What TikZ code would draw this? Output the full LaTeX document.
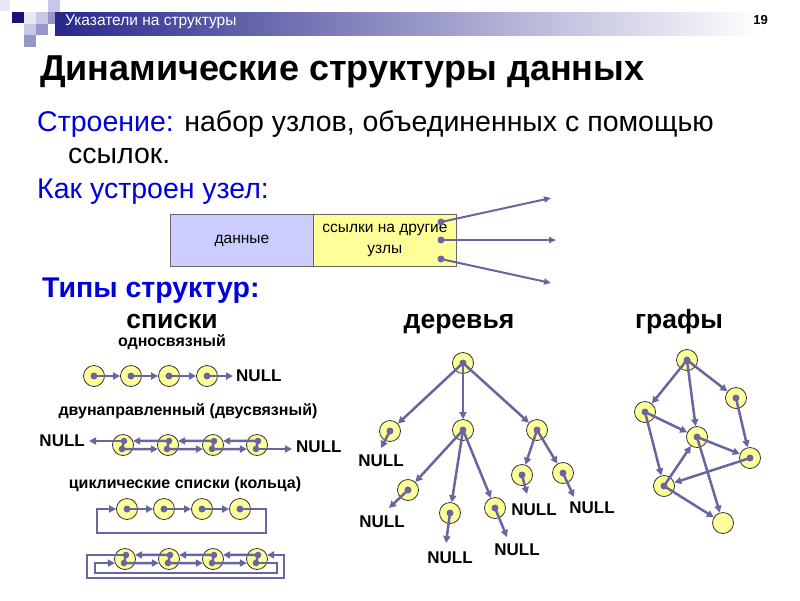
\documentclass[tikz,border=0pt]{standalone}
\usepackage{fontspec}
\setmainfont{Liberation Sans}
\usetikzlibrary{arrows.meta}
\definecolor{barDark}{RGB}{40,40,140}
\definecolor{lineC}{RGB}{102,102,160}
\definecolor{nodeFill}{RGB}{255,255,153}
\definecolor{dataFill}{RGB}{204,204,255}
\definecolor{blueT}{RGB}{0,0,220}
\definecolor{sqDark}{RGB}{20,20,120}
\definecolor{sqMid}{RGB}{150,150,200}
\definecolor{sqLight}{RGB}{200,200,230}
\definecolor{sqPale}{RGB}{232,232,242}
\tikzset{
  cnode/.style={circle,draw=black!80,line width=0.8pt,fill=nodeFill,minimum size=21pt,inner sep=0pt},
  arr/.style={draw=lineC,line width=2.5pt,-{Triangle[length=7pt,width=7pt]}},
  thinarr/.style={draw=lineC,line width=2pt,-{Triangle[length=7pt,width=6pt]}},
  dotc/.style={fill=lineC},
  nulltxt/.style={font=\bfseries\fontsize{17}{19}\selectfont,inner sep=0pt},
  bodyT/.style={anchor=base west,inner sep=0pt,font=\fontsize{28.5}{32}\selectfont},
  headT/.style={inner sep=0pt,font=\bfseries\fontsize{26.5}{30}\selectfont,anchor=base},
  subT/.style={inner sep=0pt,font=\bfseries\fontsize{16}{18}\selectfont,anchor=base},
  boxT/.style={draw=black!60,line width=0.8pt,minimum width=143pt,minimum height=52pt,anchor=north west,inner sep=0pt,align=center,font=\fontsize{15.5}{21}\selectfont}
}
\begin{document}
\begin{tikzpicture}[x=1pt,y=-1pt]
\useasboundingbox (0,0) rectangle (800,600);
% header squares
\fill[sqPale] (0,0) rectangle (10,11);
\fill[sqLight] (48,0) rectangle (60,12);
\fill[sqDark] (12,12) rectangle (24,23);
\fill[sqPale] (24,12) rectangle (36,24);
\fill[sqLight] (36,12) rectangle (48,24);
\fill[sqMid] (48,12) rectangle (60,24);
\fill[sqLight] (24,24) rectangle (36,35);
\fill[sqMid] (36,24) rectangle (48,35);
\fill[sqMid] (24,35) rectangle (36,47);
% header bar
\shade[left color=barDark,right color=white] (55,12) rectangle (760,35);
\node[anchor=west,inner sep=0pt,text=white,font=\fontsize{15.5}{17}\selectfont] (hdr) at (65,22) {Указатели на структуры};
\node[anchor=east,inner sep=0pt,font=\bfseries\fontsize{13}{15}\selectfont] (pg) at (768,20) {19};
% title
\node[anchor=base west,inner sep=0pt,font=\bfseries\fontsize{36}{40}\selectfont] (title) at (40,80) {Динамические структуры данных};
\node[bodyT] (t1) at (37,131) {\textcolor{blueT}{Строение:} набор узлов, объединенных с помощью};
\node[bodyT] (t2) at (68,163) {ссылок.};
\node[bodyT,text=blueT] (t3) at (37,198) {Как устроен узел:};
\node[bodyT,text=blueT,font=\bfseries\fontsize{28.5}{32}\selectfont] (t4) at (42,297) {Типы структур:};
% node structure
\node[boxT,fill=dataFill] (data) at (170,214) {данные};
\node[boxT,fill=nodeFill] (links) at (313,214) {ссылки на другие\\узлы};
\coordinate (p1) at (441,222);
\coordinate (p2) at (441,240);
\coordinate (p3) at (441,259);
\coordinate (q1) at (551,198);
\coordinate (q2) at (556,240);
\coordinate (q3) at (551,283);
\draw[thinarr] (p1) -- (q1);
\draw[thinarr] (p2) -- (q2);
\draw[thinarr] (p3) -- (q3);
\foreach \p in {p1,p2,p3} \fill[dotc] (\p) circle (3.5);
% section heads
\node[headT] (h1) at (172,328) {списки};
\node[headT] (h2) at (459,328) {деревья};
\node[headT] (h3) at (679,328) {графы};
% singly linked
\node[subT] (s0) at (172,346) {односвязный};
\node[cnode] (a1) at (94,376) {};
\node[cnode] (a2) at (131,376) {};
\node[cnode] (a3) at (169,376) {};
\node[cnode] (a4) at (207,376) {};
\node[nulltxt,anchor=west] (an) at (236,376) {NULL};
\draw[arr] (a1.center) -- (a2);
\draw[arr] (a2.center) -- (a3);
\draw[arr] (a3.center) -- (a4);
\draw[arr] (a4.center) -- ([xshift=-3pt]an.west);
\foreach \n in {a1,a2,a3,a4} \fill[dotc] (\n) circle (3.5);
% doubly linked
\node[subT] (d0) at (188,415) {двунаправленный (двусвязный)};
\foreach \i/\x in {1/123,2/168,3/213,4/257}{
  \node[cnode] (b\i) at (\x,445) {};
  \coordinate (b\i u) at (\x+1,441);
  \coordinate (b\i d) at (\x-1,449);
}
\node[nulltxt,anchor=east] (bnl) at (85,441) {NULL};
\node[nulltxt,anchor=west] (bnr) at (296,447) {NULL};
\draw[arr] (b1u) -- ([xshift=4pt]b1u -| bnl.east);
\draw[arr] (b2u) -- (b1.22);
\draw[arr] (b3u) -- (b2.22);
\draw[arr] (b4u) -- (b3.22);
\draw[arr] (b1d) -- (b2.202);
\draw[arr] (b2d) -- (b3.202);
\draw[arr] (b3d) -- (b4.202);
\draw[arr] (b4d) -- ([xshift=-4pt]b4d -| bnr.west);
\foreach \i in {1,2,3,4}{
  \draw[lineC,line width=2.5pt] (b\i u) -- (b\i d);
  \fill[dotc] (b\i u) circle (3.3);
  \fill[dotc] (b\i d) circle (3.3);
}
% cyclic
\node[subT] (c0) at (185,488) {циклические списки (кольца)};
\foreach \i/\x in {1/127,2/164,3/202,4/240}{
  \node[cnode] (s\i) at (\x,509) {};
}
\coordinate (sR) at (266,533);
\coordinate (sL) at (97,533);
\draw[arr] (s1.center) -- (s2);
\draw[arr] (s2.center) -- (s3);
\draw[arr] (s3.center) -- (s4);
\draw[arr] (s4.center) -| (sR) -- (sL) |- (s1.west);
\foreach \n in {s1,s2,s3,s4} \fill[dotc] (\n) circle (3.5);
% cyclic doubly
\foreach \i/\x in {1/125,2/169,3/213,4/257}{
  \node[cnode] (e\i) at (\x,559) {};
  \coordinate (e\i u) at (\x+1,555);
  \coordinate (e\i d) at (\x-1,563);
}
\coordinate (oL) at (87,578);
\coordinate (oR) at (284,578);
\coordinate (iL) at (95,573);
\coordinate (iR) at (277,573);
\draw[arr] (e1u) -| (oL) -- (oR) |- (e4.22);
\draw[arr] (e4d) -| (iR) -- (iL) |- (e1.202);
\draw[arr] (e2u) -- (e1.22);
\draw[arr] (e3u) -- (e2.22);
\draw[arr] (e4u) -- (e3.22);
\draw[arr] (e1d) -- (e2.202);
\draw[arr] (e2d) -- (e3.202);
\draw[arr] (e3d) -- (e4.202);
\foreach \i in {1,2,3,4}{
  \draw[lineC,line width=2.5pt] (e\i u) -- (e\i d);
  \fill[dotc] (e\i u) circle (3.3);
  \fill[dotc] (e\i d) circle (3.3);
}
% tree
\node[cnode] (r) at (463,363) {};
\node[cnode] (tA) at (390,431) {};
\node[cnode] (tB) at (463,430) {};
\node[cnode] (tC) at (537,430) {};
\node[cnode] (tD) at (408,490) {};
\node[cnode] (tE) at (450,513) {};
\node[cnode] (tF) at (495,508) {};
\node[cnode] (tG) at (522,475) {};
\node[cnode] (tH) at (563,473) {};
\node[nulltxt] (nA) at (381,461) {NULL};
\node[nulltxt] (nD) at (382,522) {NULL};
\node[nulltxt] (nE) at (450,558) {NULL};
\node[nulltxt] (nF) at (517,550) {NULL};
\node[nulltxt] (nG) at (534,510) {NULL};
\node[nulltxt] (nH) at (592,508) {NULL};
\coordinate (eA) at (381,448);
\coordinate (eD) at (389,508);
\coordinate (eE) at (446,543);
\coordinate (eF) at (507,537);
\coordinate (eG) at (527,494);
\coordinate (eH) at (574,497);
\draw[arr] (r.center) -- (tA);
\draw[arr] (r.center) -- (tB);
\draw[arr] (r.center) -- (tC);
\draw[arr] (tB.center) -- (tD);
\draw[arr] (tB.center) -- (tE);
\draw[arr] (tB.center) -- (tF);
\draw[arr] (tC.center) -- (tG);
\draw[arr] (tC.center) -- (tH);
\draw[arr] (tA.center) -- (eA);
\draw[arr] (tD.center) -- (eD);
\draw[arr] (tE.center) -- (eE);
\draw[arr] (tF.center) -- (eF);
\draw[arr] (tG.center) -- (eG);
\draw[arr] (tH.center) -- (eH);
\foreach \n in {r,tA,tB,tC,tD,tE,tF,tG,tH} \fill[dotc] (\n) circle (3.5);
% graph
\node[cnode] (g1) at (687,360) {};
\node[cnode] (g2) at (645,412) {};
\node[cnode] (g3) at (736,398) {};
\node[cnode] (g4) at (697,437) {};
\node[cnode] (g5) at (750,458) {};
\node[cnode] (g6) at (664,486) {};
\node[cnode] (g7) at (723,523) {};
\draw[arr] (g1.center) -- (g2);
\draw[arr] (g1.center) -- (g4);
\draw[arr] (g1.center) -- (g3);
\draw[arr] (g2.center) -- (g4);
\draw[arr] (g2.center) -- (g6);
\draw[arr] (g3.center) -- (g5);
\draw[arr] (g4.center) -- (g5);
\draw[arr] (g4.center) -- (g7);
\draw[arr] (g5.center) -- (g6);
\draw[arr] (g6.center) -- (g4);
\draw[arr] (g6.center) -- (g7);
\foreach \n in {g1,g2,g3,g4,g5,g6} \fill[dotc] (\n) circle (3.5);
\end{tikzpicture}
\end{document}
